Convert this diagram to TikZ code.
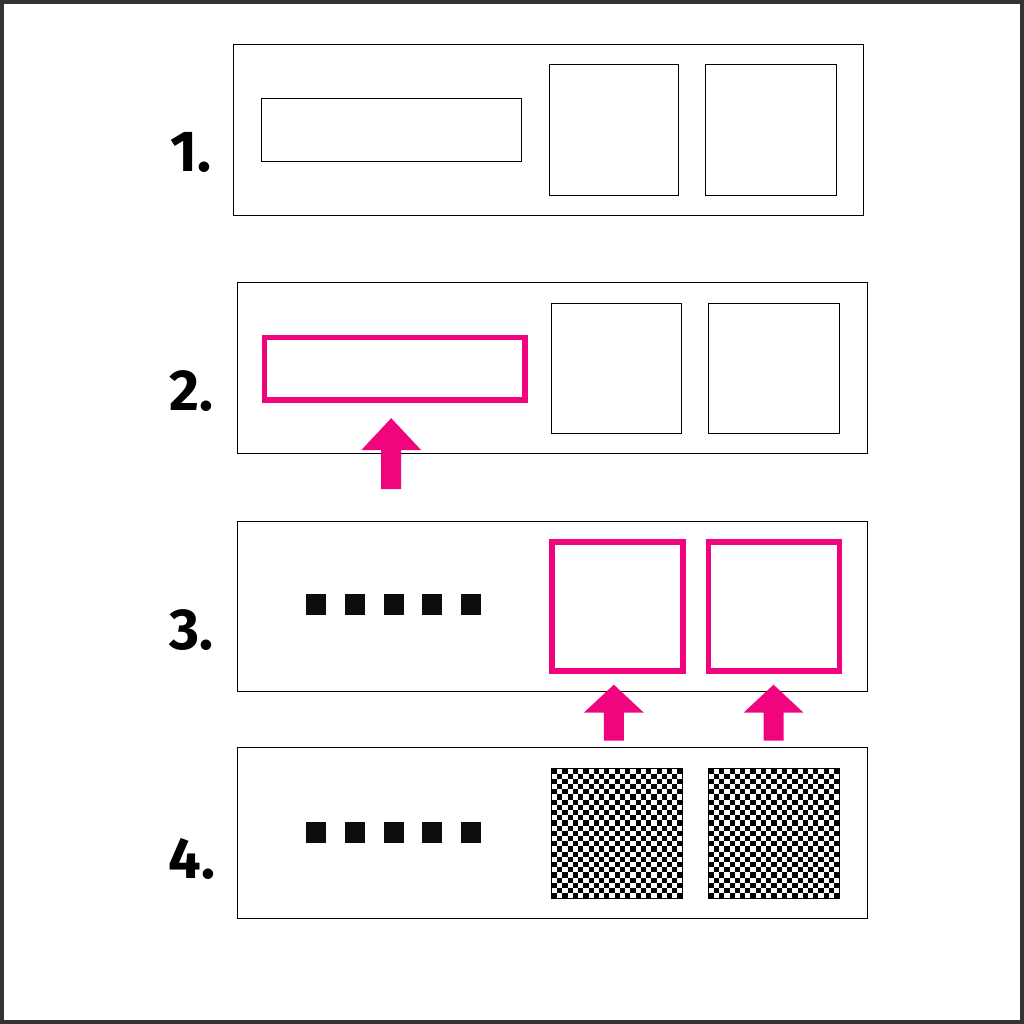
\documentclass[tikz,border=0pt]{standalone}
\usepackage{fontspec}
\setmainfont{Fira Sans}
\usepackage{tikz}
\definecolor{hlpink}{HTML}{F0057F}
\definecolor{frame}{HTML}{333333}
\definecolor{ink}{HTML}{0D0D0D}

\begin{document}
\begin{tikzpicture}[x=0.02cm, y=-0.02cm,
  panel/.style={draw=black, line width=0.5pt},
  slot/.style={draw=black, line width=0.5pt},
  picked/.style={draw=hlpink, line width=3.2pt},
  dot/.style={fill=ink},
  uparrow/.style={fill=hlpink},
  steplabel/.style={font=\fontsize{33}{33}\selectfont\bfseries, text=black}]
  % outer frame
  \draw[frame, line width=2.5pt, fill=white] (1.25,1.25) rectangle (1022.75,1022.75);
  \useasboundingbox (0,0) rectangle (1024,1024);
  % step 1
  \draw[panel] (233,44) rectangle (864,215);
  \draw[slot] (261,98) rectangle (521,161);
  \draw[slot] (549,64) rectangle (679,195);
  \draw[slot] (706,64) rectangle (837,195);
  \node[steplabel] (l1) at (190,152) {1.};
  % step 2
  \draw[panel] (237,282) rectangle (868,453);
  \draw[picked] (264,337) rectangle (525,400);
  \draw[slot] (552,303) rectangle (682,433);
  \draw[slot] (709,303) rectangle (840,433);
  \node[steplabel] (l2) at (191,391) {2.};
  \coordinate (a1) at (391,418);
  \fill[uparrow] (a1) -- ++(30,32) -- ++(-20,0) -- ++(0,39) -- ++(-20,0) -- ++(0,-39) -- ++(-20,0) -- cycle;
  % step 3
  \draw[panel] (237,521) rectangle (868,692);
  \foreach \dx in {306,345,384,422,461}
    \fill[dot] (\dx,594) rectangle ++(20,21);
  \draw[picked] (552,542) rectangle (683,671);
  \draw[picked] (709,542) rectangle (840,671);
  \node[steplabel] (l3) at (191,630) {3.};
  \foreach \ax/\nm in {614/a2, 774/a3} {
    \coordinate (\nm) at (\ax,685);
    \fill[uparrow] (\nm) -- ++(30,28) -- ++(-20,0) -- ++(0,28) -- ++(-20,0) -- ++(0,-28) -- ++(-20,0) -- cycle;
  }
  % step 4
  \draw[panel] (237,748) rectangle (868,919);
  \foreach \dx in {306,345,384,422,461}
    \fill[dot] (\dx,823) rectangle ++(20,21);
  \foreach \bx in {552,709} {
    \foreach \i in {0,...,24}
      \foreach \j in {0,...,24} {
        \pgfmathtruncatemacro{\odd}{mod(\i+\j,2)}
        \ifnum\odd=0
          \fill[black] (\bx+\i*5.24,769+\j*5.2) rectangle ++(5.24,5.2);
        \fi
      }
    \draw[slot] (\bx,769) rectangle ++(131,130);
  }
  \node[steplabel] (l4) at (191,860) {4.};
\end{tikzpicture}
\end{document}
